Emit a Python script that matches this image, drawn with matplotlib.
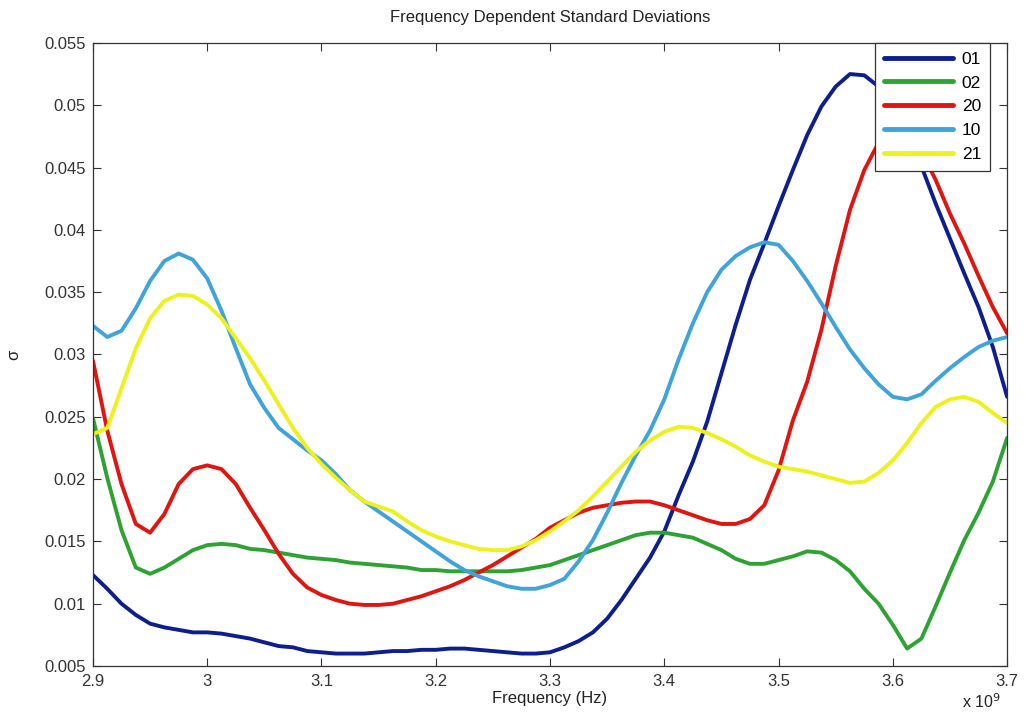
import numpy as np
import matplotlib
matplotlib.use("Agg")
import matplotlib.pyplot as plt

plt.rcParams["font.family"] = ["Liberation Sans", "DejaVu Sans"]

# frequency grid (x 1e9 Hz), read every 0.0125
freq = np.round(np.arange(2.9, 3.70001, 0.0125), 4)

s01 = [0.0123, 0.0112, 0.0100, 0.0091, 0.0084, 0.0081, 0.0079, 0.0077, 0.0077,
       0.0076, 0.0074, 0.0072, 0.0069, 0.0066, 0.0065, 0.0062, 0.0061, 0.0060,
       0.0060, 0.0060, 0.0061,
       0.0062, 0.0062, 0.0063, 0.0063, 0.0064, 0.0064, 0.0063, 0.0062, 0.0061,
       0.0060, 0.0060, 0.0061, 0.0065, 0.0070, 0.0077, 0.0088, 0.0103, 0.0120,
       0.0137, 0.0158,
       0.0187, 0.0214, 0.0246, 0.0285, 0.0324, 0.0360, 0.0389, 0.0419, 0.0448,
       0.0476, 0.0499, 0.0515, 0.0525, 0.0524, 0.0515, 0.0499, 0.0478, 0.0451,
       0.0421, 0.0393, 0.0365, 0.0338, 0.0306, 0.0266]
s02 = [0.0249, 0.0201, 0.0159, 0.0129, 0.0124, 0.0129, 0.0136, 0.0143, 0.0147,
       0.0148, 0.0147, 0.0144, 0.0143, 0.0141, 0.0139, 0.0137, 0.0136, 0.0135,
       0.0133, 0.0132, 0.0131,
       0.0130, 0.0129, 0.0127, 0.0127, 0.0126, 0.0126, 0.0126, 0.0126, 0.0126,
       0.0127, 0.0129, 0.0131, 0.0135, 0.0139, 0.0143, 0.0147, 0.0151, 0.0155,
       0.0157, 0.0157,
       0.0155, 0.0153, 0.0148, 0.0143, 0.0136, 0.0132, 0.0132, 0.0135, 0.0138,
       0.0142, 0.0141, 0.0135, 0.0126, 0.0112, 0.0100, 0.0083, 0.0064, 0.0072,
       0.0098, 0.0125, 0.0151, 0.0173, 0.0198, 0.0233]
s20 = [0.0295, 0.0239, 0.0196, 0.0164, 0.0157, 0.0172, 0.0196, 0.0208, 0.0211,
       0.0208, 0.0196, 0.0177, 0.0159, 0.0140, 0.0124, 0.0113, 0.0107, 0.0103,
       0.0100, 0.0099, 0.0099,
       0.0100, 0.0103, 0.0106, 0.0110, 0.0114, 0.0119, 0.0125, 0.0131, 0.0138,
       0.0145, 0.0152, 0.0161, 0.0167, 0.0173, 0.0177, 0.0179, 0.0181, 0.0182,
       0.0182, 0.0179,
       0.0175, 0.0171, 0.0167, 0.0164, 0.0164, 0.0168, 0.0179, 0.0207, 0.0247,
       0.0278, 0.0320, 0.0371, 0.0416, 0.0448, 0.0470, 0.0482, 0.0480, 0.0463,
       0.0440, 0.0413, 0.0389, 0.0363, 0.0338, 0.0317]
s10 = [0.0323, 0.0314, 0.0319, 0.0337, 0.0359, 0.0375, 0.0381, 0.0376, 0.0361,
       0.0335, 0.0305, 0.0276, 0.0257, 0.0241, 0.0232, 0.0223, 0.0215, 0.0204,
       0.0191, 0.0182, 0.0174,
       0.0166, 0.0158, 0.0150, 0.0142, 0.0134, 0.0127, 0.0122, 0.0118, 0.0114,
       0.0112, 0.0112, 0.0115, 0.0120, 0.0134, 0.0151, 0.0173, 0.0197, 0.0219,
       0.0239, 0.0264,
       0.0296, 0.0325, 0.0350, 0.0368, 0.0379, 0.0386, 0.0390, 0.0388, 0.0375,
       0.0359, 0.0341, 0.0322, 0.0304, 0.0289, 0.0276, 0.0266, 0.0264, 0.0268,
       0.0279, 0.0289, 0.0298, 0.0306, 0.0311, 0.0314]
s21 = [0.0236, 0.0241, 0.0273, 0.0305, 0.0329, 0.0343, 0.0348, 0.0347, 0.0340,
       0.0329, 0.0313, 0.0297, 0.0279, 0.0260, 0.0241, 0.0225, 0.0212, 0.0201,
       0.0191, 0.0182, 0.0178,
       0.0174, 0.0166, 0.0159, 0.0154, 0.0150, 0.0147, 0.0144, 0.0143, 0.0143,
       0.0146, 0.0151, 0.0158, 0.0166, 0.0175, 0.0186, 0.0198, 0.0210, 0.0222,
       0.0231, 0.0238,
       0.0242, 0.0241, 0.0237, 0.0232, 0.0226, 0.0219, 0.0214, 0.0210, 0.0208,
       0.0206, 0.0203, 0.0200, 0.0197, 0.0198, 0.0205, 0.0215, 0.0229, 0.0245,
       0.0258, 0.0264, 0.0266, 0.0262, 0.0253, 0.0245]

labels = ["01", "02", "20", "10", "21"]
colors = ["#0d1f8f", "#2ea334", "#e0150f", "#3fa4dc", "#eef21c"]
xticks = ["2.9", "3", "3.1", "3.2", "3.3", "3.4", "3.5", "3.6", "3.7"]
yticks = ["0.005", "0.01", "0.015", "0.02", "0.025", "0.03",
          "0.035", "0.04", "0.045", "0.05", "0.055"]

fig = plt.figure(figsize=(10.26, 7.15), dpi=100)
ax = fig.add_axes([0.0906, 0.0685, 0.891, 0.8715])
for ys, lab, c in zip([s01, s02, s20, s10, s21], labels, colors):
    ax.plot(freq, ys, color=c, lw=2.8, label=lab, solid_capstyle="round")

ax.set_xlim(2.9, 3.7)
ax.set_ylim(0.005, 0.055)
ax.set_xticks(np.linspace(2.9, 3.7, len(xticks)))
ax.set_xticklabels(xticks)
ax.set_yticks(np.linspace(0.005, 0.055, len(yticks)))
ax.set_yticklabels(yticks)
ax.tick_params(direction="in", top=True, right=True, labelsize=12,
               colors="#333333", length=6, width=0.8, pad=3)
ax.tick_params(axis="x", pad=6)
ax.tick_params(axis="y", pad=5)
for sp in ax.spines.values():
    sp.set_color("#333333"); sp.set_linewidth(0.9)

ax.set_title("Frequency Dependent Standard Deviations", fontsize=12, color="#222222", pad=15)
ax.set_xlabel("Frequency (Hz)", fontsize=12, color="#222222", labelpad=1)
ax.set_ylabel("σ", fontsize=12, color="#222222")
ax.yaxis.set_label_coords(-0.078, 0.5)
fig.text(0.957, 0.010, r"x 10$^9$", fontsize=11.5, color="#222222", ha="center")

leg = ax.legend(loc="upper right", bbox_to_anchor=(0.981, 1.0), borderaxespad=0,
                fontsize=12.5, handlelength=4.0, frameon=True, fancybox=False,
                borderpad=0.5, labelspacing=0.5, handletextpad=0.5, framealpha=1)
leg.get_frame().set_edgecolor("#333333")
leg.get_frame().set_linewidth(0.9)
leg.set_zorder(10)
for line in leg.get_lines():
    line.set_linewidth(3.5)

fig.savefig("out.png", dpi=100)
